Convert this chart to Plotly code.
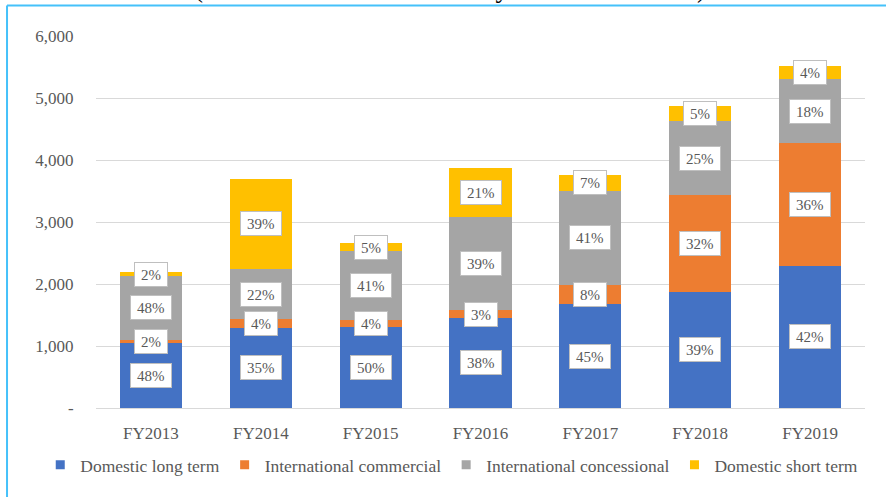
import plotly.graph_objects as go

years = ["FY2013", "FY2014", "FY2015", "FY2016", "FY2017", "FY2018", "FY2019"]

dom_long = [1043, 1296, 1312, 1452, 1677, 1876, 2296]
intl_comm = [54, 139, 107, 128, 312, 1559, 1973]
intl_conc = [1037, 807, 1113, 1496, 1516, 1194, 1032]
dom_short = [54, 1452, 124, 790, 253, 242, 220]

lbl_dom_long = ["48%", "35%", "50%", "38%", "45%", "39%", "42%"]
lbl_intl_comm = ["2%", "4%", "4%", "3%", "8%", "32%", "36%"]
lbl_intl_conc = ["48%", "22%", "41%", "39%", "41%", "25%", "18%"]
lbl_dom_short = ["2%", "39%", "5%", "21%", "7%", "5%", "4%"]

series = [
    ("Domestic long term", dom_long, lbl_dom_long, "#4472C4"),
    ("International commercial", intl_comm, lbl_intl_comm, "#ED7D31"),
    ("International concessional", intl_conc, lbl_intl_conc, "#A5A5A5"),
    ("Domestic short term", dom_short, lbl_dom_short, "#FFC000"),
]

y_ticks = [0, 1000, 2000, 3000, 4000, 5000, 6000]
y_tick_text = ["-", "1,000", "2,000", "3,000", "4,000", "5,000", "6,000"]

TXT = "#595959"
FONT = "Liberation Serif"

fig = go.Figure()
annotations = []
base = [0] * len(years)
for name, vals, lbls, col in series:
    fig.add_trace(go.Bar(
        x=years, y=vals, name=name, marker=dict(color=col, line=dict(width=0)),
        hoverinfo="skip", showlegend=False, legendgroup=name,
    ))
    for i, (v, t) in enumerate(zip(vals, lbls)):
        w = 7.5 * (len(t) - 1) + 12.5 + 10
        annotations.append(dict(
            x=years[i], y=base[i] + v / 2, xref="x", yref="y", text=t,
            showarrow=False, font=dict(family=FONT, size=15, color=TXT),
            bgcolor="white", bordercolor="#BFBFBF", borderwidth=1, borderpad=1,
            width=w, height=21,
        ))
        base[i] += v

# small square legend keys
for name, vals, lbls, col in series:
    fig.add_trace(go.Scatter(
        x=[None], y=[None], mode="markers", name=name, legendgroup=name,
        marker=dict(symbol="square", size=9, color=col), hoverinfo="skip",
    ))

# partially visible title cut by the top edge
annotations.append(dict(
    x=0.46, y=1.0835, xref="paper", yref="paper", xanchor="center", yanchor="bottom",
    text="(in millions of local currency and as % of total)", showarrow=False,
    font=dict(family=FONT, size=27, color="black"),
))

fig.update_layout(
    barmode="stack",
    bargap=0.435,
    width=886, height=497,
    margin=dict(l=96, r=21, t=36, b=89),
    paper_bgcolor="white", plot_bgcolor="white",
    font=dict(family=FONT, size=17, color=TXT),
    annotations=annotations,
    showlegend=True,
    hovermode=False,
    legend=dict(
        orientation="h", x=-0.0725, xanchor="left", y=-0.153, yanchor="middle",
        font=dict(family=FONT, size=17.5, color=TXT), traceorder="normal",
        itemclick=False, itemwidth=30,
    ),
    shapes=[
        dict(type="line", xref="paper", yref="paper", x0=-0.1157, x1=1.2,
             y0=1.082, y1=1.082, line=dict(color="#45C1FA", width=2)),
        dict(type="line", xref="paper", yref="paper", x0=-0.1157, x1=-0.1157,
             y0=1.082, y1=-0.5, line=dict(color="#45C1FA", width=2)),
    ],
)
fig.update_xaxes(
    showgrid=False, showline=True, linecolor="#D9D9D9", linewidth=1,
    ticks="outside", ticklen=10, tickcolor="rgba(0,0,0,0)",
    tickfont=dict(family=FONT, size=17, color=TXT),
)
fig.update_yaxes(
    range=[0, 6000], tickvals=y_ticks, ticktext=y_tick_text,
    showgrid=True, gridcolor="#D9D9D9", gridwidth=1, zeroline=False,
    ticks="outside", ticklen=18, tickcolor="rgba(0,0,0,0)",
    tickfont=dict(family=FONT, size=17, color=TXT),
)

fig.write_html(
    "out.html",
    config={"displayModeBar": False},
    post_script="document.body.style.margin='0';document.body.style.overflow='hidden';",
)
